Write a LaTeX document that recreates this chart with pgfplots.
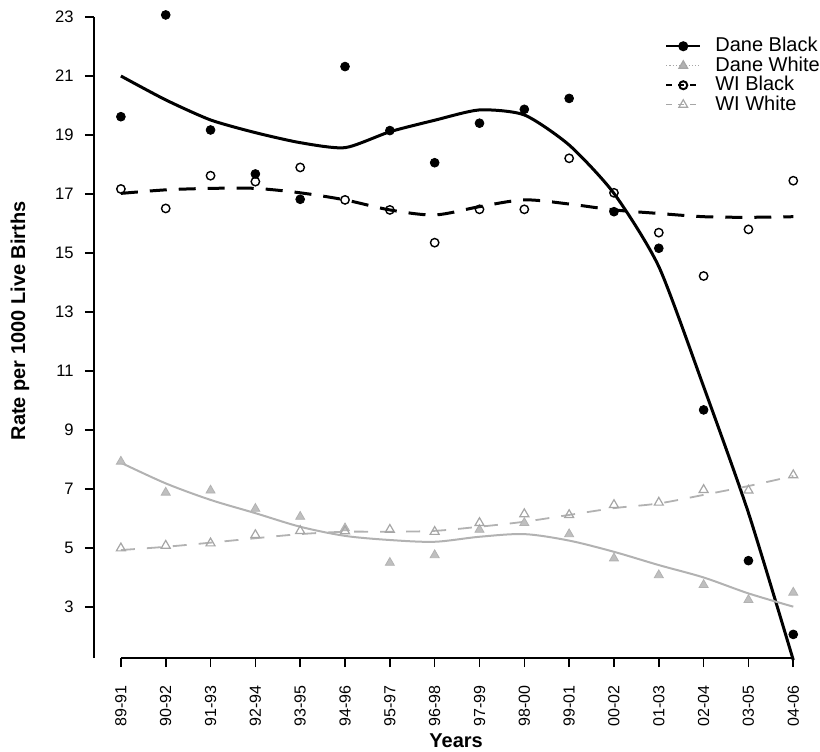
\documentclass[border=0pt]{standalone}
\usepackage{pgfplots}
\usepackage{pgfplotstable}
\pgfplotsset{compat=1.18}
\usepackage{fontspec}
\setmainfont{Liberation Sans}

\pgfplotstableread{
x db dw wb ww
0 19.62 7.93 17.17 4.99
1 23.07 6.88 16.51 5.08
2 19.17 6.95 17.62 5.16
3 17.68 6.33 17.42 5.44
4 16.82 6.06 17.90 5.58
5 21.32 5.67 16.80 5.57
6 19.15 4.50 16.46 5.62
7 18.06 4.76 15.35 5.55
8 19.40 5.62 16.48 5.85
9 19.87 5.85 16.48 6.15
10 20.24 5.47 18.21 6.12
11 16.40 4.65 17.04 6.46
12 15.16 4.08 15.69 6.54
13 9.68 3.75 14.22 6.97
14 4.57 3.24 15.80 6.95
15 2.07 3.49 17.45 7.47
}\pts

\pgfplotstableread{
x db dw wb ww
0 21.00 7.89 17.02 4.93
1 20.19 7.19 17.14 5.04
2 19.51 6.63 17.19 5.18
3 19.08 6.18 17.19 5.33
4 18.74 5.72 17.04 5.47
5 18.57 5.41 16.80 5.55
6 19.11 5.27 16.46 5.55
7 19.50 5.21 16.29 5.58
8 19.85 5.38 16.57 5.72
9 19.68 5.47 16.80 5.89
10 18.66 5.25 16.66 6.12
11 17.02 4.87 16.46 6.35
12 14.54 4.42 16.34 6.51
13 10.47 4.00 16.23 6.80
14 6.19 3.46 16.21 7.10
15 1.20 3.01 16.23 7.44
}\trend

\begin{document}
\begin{tikzpicture}
\useasboundingbox (-47pt,-46.5pt) rectangle (363pt,329pt);
\begin{axis}[
  at={(0,0)}, anchor=south west,
  scale only axis,
  width=353pt, height=320.5pt,
  xmin=-0.6, xmax=15.15,
  ymin=1.27, ymax=23,
  clip=false,
  axis x line*=bottom, axis y line*=left,
  x axis line style={draw=none},
  y axis line style={line width=0.8pt, -},
  xtick={0,...,15},
  xticklabels={89-91,90-92,91-93,92-94,93-95,94-96,95-97,96-98,97-99,98-00,99-01,00-02,01-03,02-04,03-05,04-06},
  ytick={3,5,...,23},
  tick align=outside,
  major tick length=4.5pt,
  tick style={black, line width=0.8pt},
  x tick label style={rotate=90, anchor=east, font=\fontsize{8}{10}\selectfont, inner xsep=9pt},
  y tick label style={font=\fontsize{8.3}{10}\selectfont, inner xsep=5.5pt},
  /pgf/number format/assume math mode=true,
  every axis y label/.style={at={(rel axis cs:0,0.526)}, xshift=-37pt, rotate=90, anchor=center, font=\fontsize{10}{12}\selectfont\bfseries},
  every axis x label/.style={at={(rel axis cs:0.513,0)}, yshift=-41.5pt, anchor=center, font=\fontsize{10}{12}\selectfont\bfseries},
  ylabel={Rate per 1000 Live Births},
  xlabel={Years},
  legend style={draw=none, fill=none, at={(rel axis cs:0.80,0.978)}, anchor=north west,
    font=\fontsize{10}{10}\selectfont, nodes={inner sep=1pt}, row sep=-1pt,
    /tikz/every odd column/.append style={column sep=6pt}},
  legend cell align=left,
]
\draw[line width=0.8pt] (axis cs:0,1.27) -- (axis cs:15,1.27);

\addlegendimage{black, line width=1pt, mark=*, mark size=2pt}
\addlegendentry{Dane Black}
\addlegendimage{gray!70, line width=0.6pt, densely dotted, mark=triangle*, mark size=2.5pt, mark options={solid, fill=gray!60}}
\addlegendentry{Dane White}
\addlegendimage{black, line width=1pt, dashed, mark=o, mark size=2pt, mark options={solid, fill=white}}
\addlegendentry{WI Black}
\addlegendimage{gray!70, line width=0.6pt, dashed, mark=triangle, mark size=2.5pt, mark options={solid}}
\addlegendentry{WI White}

% trend lines
\addplot[forget plot, black, line width=1.5pt, smooth, tension=0.4, no markers] table[x=x, y=db] {\trend};
\addplot[forget plot, gray!60, line width=1pt, smooth, no markers] table[x=x, y=dw] {\trend};
\addplot[forget plot, black, line width=1.5pt, dash pattern=on 8.5pt off 6pt, smooth, no markers] table[x=x, y=wb] {\trend};
\addplot[forget plot, gray!60, line width=0.9pt, dash pattern=on 7pt off 6pt, smooth, no markers] table[x=x, y=ww] {\trend};

% data points
\addplot[forget plot, only marks, mark=*, mark size=2.2pt, black] table[x=x, y=db] {\pts};
\addplot[forget plot, only marks, mark=triangle*, mark size=2.6pt, gray!60, mark options={fill=gray!50}] table[x=x, y=dw] {\pts};
\addplot[forget plot, only marks, mark=o, mark size=2.1pt, black, mark options={line width=0.7pt, fill=white}] table[x=x, y=wb] {\pts};
\addplot[forget plot, only marks, mark=triangle, mark size=2.6pt, gray!70, mark options={line width=0.6pt}] table[x=x, y=ww] {\pts};
\end{axis}
\end{tikzpicture}
\end{document}
